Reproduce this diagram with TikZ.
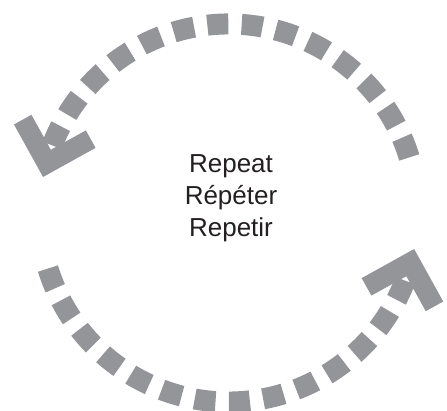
\documentclass[tikz,border=0pt]{standalone}
\usepackage{fontspec}
\setmainfont{Liberation Sans}
\usetikzlibrary{calc}
\definecolor{loopgray}{RGB}{147,149,152}
\definecolor{labelink}{RGB}{35,31,32}

\tikzset{
  loopdash/.style={draw=loopgray, line width=21pt, dash pattern=on 21pt off 13.4pt},
  loophead/.style={draw=loopgray, line width=20pt, line join=miter, line cap=butt},
}

\begin{document}
\begin{tikzpicture}[x=1pt, y=1pt]
  \useasboundingbox (0,0) rectangle (447,411);
  \coordinate (c) at (228.6,198);
  % Upper arc, head at the left
  \draw[loopdash] ($(c)+(17.1:189)$) arc[start angle=17.1, end angle=160, radius=189];
  \coordinate (tipL) at ($(c)+(169:189)$);
  \draw[loophead] ($(tipL)+(74:14.1)+(29:50)$) -- ($(tipL)+(74:14.1)$) -- ($(tipL)+(74:14.1)+(119:50)$);
  % Lower arc, head at the right
  \draw[loopdash] ($(c)+(197.1:189)$) arc[start angle=197.1, end angle=340, radius=189];
  \coordinate (tipR) at ($(c)+(349:189)$);
  \draw[loophead] ($(tipR)+(254:14.1)+(209:50)$) -- ($(tipR)+(254:14.1)$) -- ($(tipR)+(254:14.1)+(299:50)$);
  % Label
  \node[font=\fontsize{26}{32}\selectfont, text=labelink, align=center] (label) at (231,213) {Repeat\\Répéter\\Repetir};
\end{tikzpicture}
\end{document}
